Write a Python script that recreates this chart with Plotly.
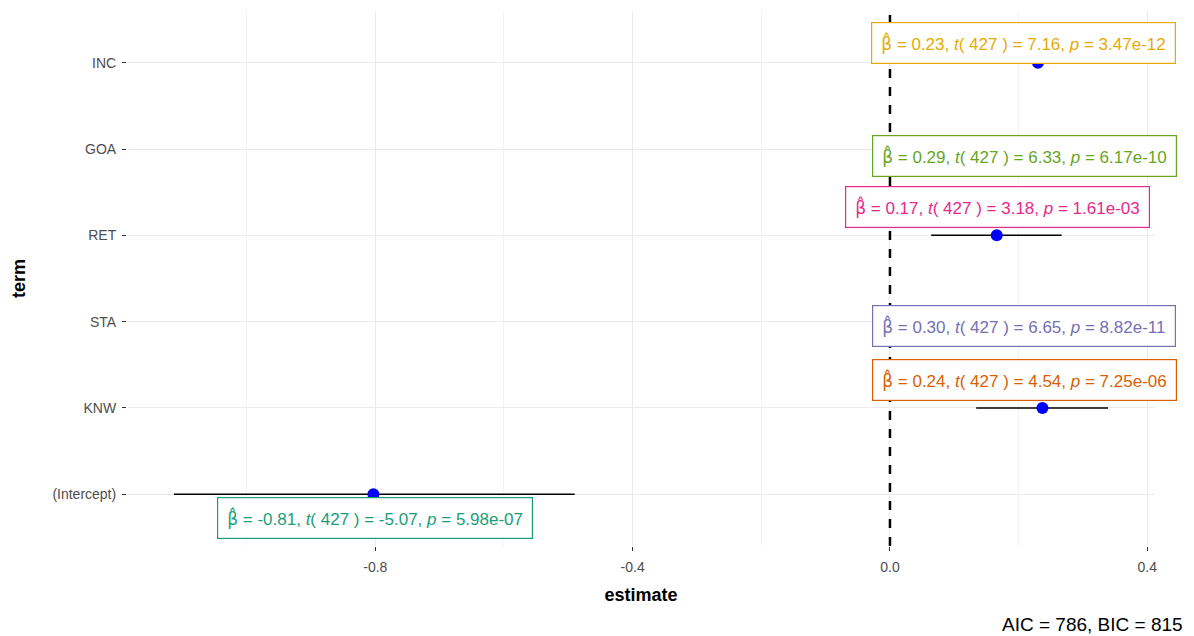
import plotly.graph_objects as go

terms = ["(Intercept)", "KNW", "STA", "RET", "GOA", "INC"]
estimates = [-0.803, 0.237, 0.30, 0.166, 0.29, 0.23]
estimate_labels = ["-0.81", "0.24", "0.30", "0.17", "0.29", "0.23"]
t_values = ["-5.07", "4.54", "6.65", "3.18", "6.33", "7.16"]
p_values = ["5.98e-07", "7.25e-06", "8.82e-11", "1.61e-03", "6.17e-10", "3.47e-12"]
conf_low = [-1.113, 0.134, 0.211, 0.064, 0.200, 0.167]
conf_high = [-0.490, 0.339, 0.389, 0.267, 0.380, 0.293]
df_resid = 427
label_colors = ["#1B9E77", "#D95F02", "#7570B3", "#E7298A", "#66A61E", "#E6AB02"]
# repel offsets of labels (pixels)
label_dx = [2, -18, -59, 1, -52, -14]
label_dy = [-24, 28, -4, 28, -7, 20]
caption = "AIC = 786, BIC = 815"

font = "Liberation Sans, Arial, sans-serif"
beta_hat = "<span style=\"font-family:'DejaVu Sans'\">β\u0302</span>"

fig = go.Figure()
fig.add_trace(go.Scatter(
    x=estimates, y=terms, mode="markers",
    marker=dict(color="#0000FF", size=12),
    error_x=dict(type="data", symmetric=False,
                 array=[h - e for h, e in zip(conf_high, estimates)],
                 arrayminus=[e - l for e, l in zip(estimates, conf_low)],
                 color="black", thickness=1.5, width=0),
    showlegend=False, hoverinfo="skip",
))

fig.add_shape(type="line", xref="x", yref="paper", x0=0, x1=0, y0=0, y1=1,
              line=dict(color="black", width=2.5, dash="dash"), layer="above")

for i, term in enumerate(terms):
    txt = (f"{beta_hat} = {estimate_labels[i]}, <i>t</i>( {df_resid} ) = {t_values[i]}, "
           f"<i>p</i> = {p_values[i]}")
    fig.add_annotation(
        x=estimates[i], y=term, xref="x", yref="y", text=txt, showarrow=False,
        xshift=label_dx[i], yshift=label_dy[i],
        font=dict(family=font, size=17, color=label_colors[i]),
        bgcolor="white", bordercolor=label_colors[i], borderwidth=1.2, borderpad=9,
    )

fig.add_annotation(x=1, y=0, xref="paper", yref="paper", xanchor="right", yanchor="middle",
                   yshift=-78, xshift=30, text=caption, showarrow=False,
                   font=dict(family=font, size=19, color="black"))

fig.update_layout(
    width=1194, height=636,
    margin=dict(l=127, r=39, t=11, b=90),
    plot_bgcolor="white", paper_bgcolor="white",
    font=dict(family=font),
    xaxis=dict(range=[-1.186, 0.412], tickvals=[-0.8, -0.4, 0.0, 0.4],
               ticktext=["-0.8", "-0.4", "0.0", "0.4"], automargin=False,
               showgrid=True, gridcolor="#EBEBEB", gridwidth=1.2,
               minor=dict(tickvals=[-1.0, -0.6, -0.2, 0.2], showgrid=True,
                          gridcolor="#F3F3F3", gridwidth=1),
               zeroline=False, ticks="outside", ticklen=4, tickcolor="#333333",
               ticklabelstandoff=4,
               tickfont=dict(size=14, color="#4D4D4D"),
               title=dict(text="<b>estimate</b>", font=dict(size=18, color="black"), standoff=14),
               showline=False),
    yaxis=dict(type="category", categoryorder="array", categoryarray=terms,
               range=[-0.6, 5.6], automargin=False,
               showgrid=True, gridcolor="#EBEBEB", gridwidth=1.2,
               zeroline=False, ticks="outside", ticklen=4, tickcolor="#333333",
               ticklabelstandoff=3,
               tickfont=dict(size=14, color="#4D4D4D"),
               title=dict(text="<b>term</b>", font=dict(size=18, color="black"), standoff=22),
               showline=False),
)

fig.write_html("out.html", config={"displayModeBar": False},
               post_script="document.body.style.margin='0';")
